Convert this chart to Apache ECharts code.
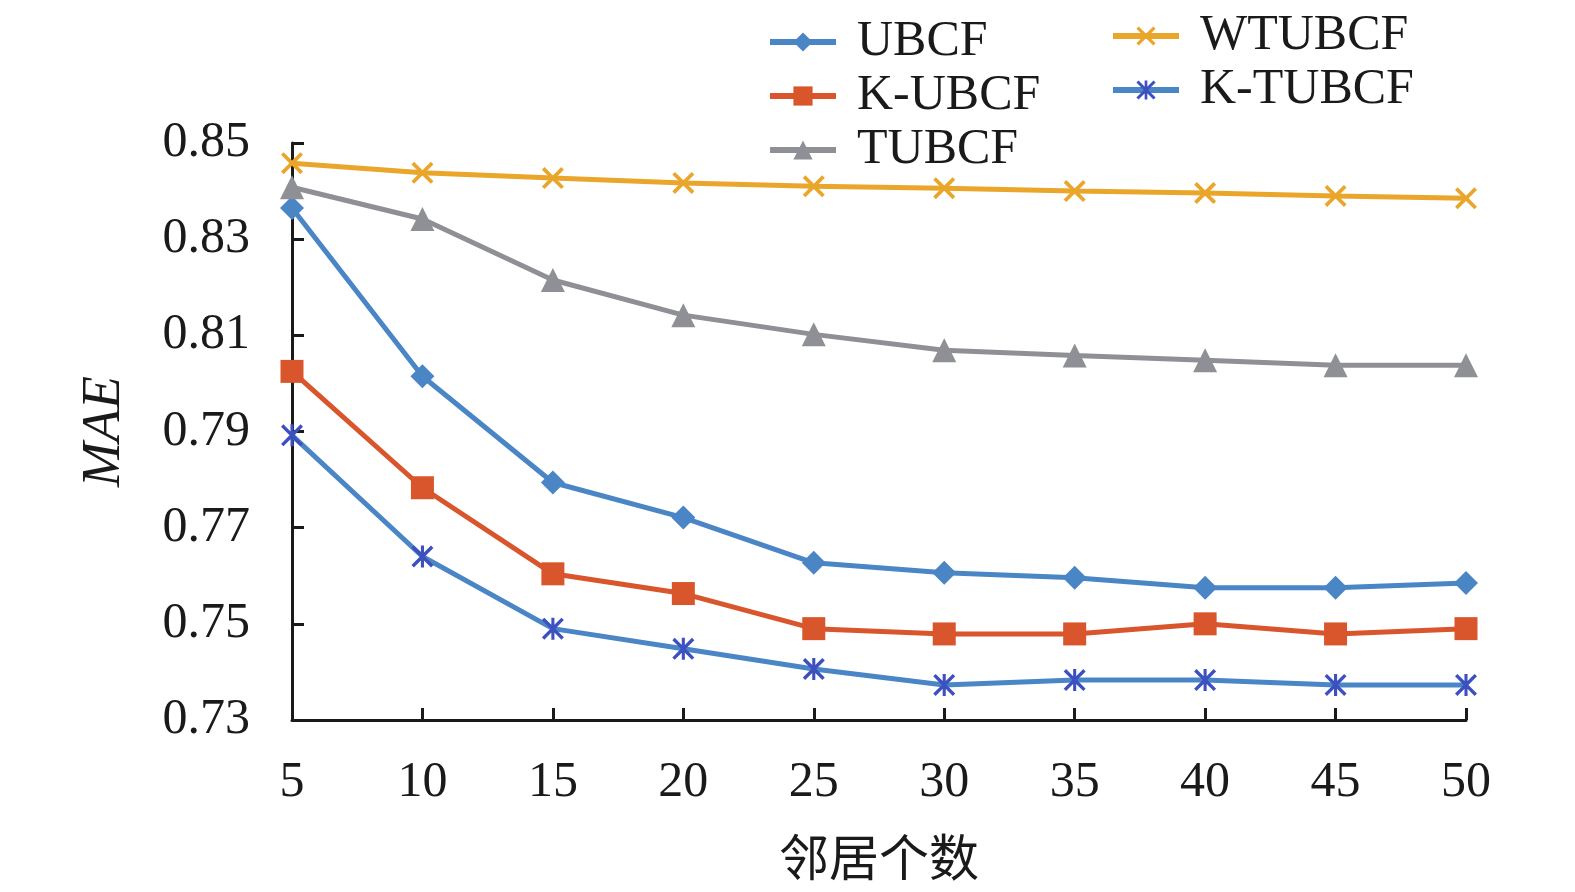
<!DOCTYPE html>
<html>
<head>
<meta charset="utf-8">
<script src="https://cdn.jsdelivr.net/npm/echarts@6/dist/echarts.min.js"></script>
<style>
  html, body { margin: 0; padding: 0; background: #fff; }
  #chart { width: 1575px; height: 892px; }
</style>
</head>
<body>
<div id="chart"></div>
<script>
// 邻居个数
var neighbors = ['5', '10', '15', '20', '25', '30', '35', '40', '45', '50'];
var yTicks = [0.73, 0.75, 0.77, 0.79, 0.81, 0.83, 0.85];

var ubcf = [0.8365, 0.8015, 0.7794, 0.7721, 0.7627, 0.7606, 0.7596, 0.7575, 0.7575, 0.7585];
var kUbcf = [0.8025, 0.7783, 0.7604, 0.7563, 0.7490, 0.7479, 0.7479, 0.7500, 0.7479, 0.7490];
var tubcf = [0.8408, 0.8342, 0.8215, 0.8142, 0.8102, 0.8069, 0.8058, 0.8048, 0.8038, 0.8038];
var wtubcf = [0.8458, 0.8438, 0.8427, 0.8417, 0.8410, 0.8406, 0.8400, 0.8396, 0.8390, 0.8385];
var kTubcf = [0.7892, 0.7640, 0.7490, 0.7448, 0.7406, 0.7373, 0.7383, 0.7383, 0.7373, 0.7373];

var serifFont = '"Liberation Serif", "Noto Sans CJK SC", serif';
var crossPath = 'path://M0,1.2 L1.2,0 L5,3.8 L8.8,0 L10,1.2 L6.2,5 L10,8.8 L8.8,10 L5,6.2 L1.2,10 L0,8.8 L3.8,5 Z';
var starPath = 'path://M0,1.1 L1.1,0 L5,3.9 L8.9,0 L10,1.1 L6.1,5 L10,8.9 L8.9,10 L5,6.1 L1.1,10 L0,8.9 L3.9,5 Z M4.3,0 L5.7,0 L5.7,10 L4.3,10 Z';

function makeSeries(name, data, color, symbol, size, markColor) {
    return {
        name: name,
        type: 'line',
        data: data,
        symbol: symbol,
        symbolSize: size,
        showAllSymbol: true,
        itemStyle: { color: markColor || color },
        lineStyle: { color: color, width: 5 },
        z: 3
    };
}

var myChart = echarts.init(document.getElementById('chart'));

var legendText = { fontFamily: serifFont, fontSize: 50, color: '#1a1a1a', padding: [0, 0, 0, 16] };

var option = {
    backgroundColor: '#fff',
    animation: false,
    grid: { left: 292, right: 109, top: 143, bottom: 172, containLabel: false },
    legend: [{
        data: ['UBCF', 'K-UBCF', 'TUBCF'],
        orient: 'vertical',
        left: 762,
        top: 12,
        itemWidth: 66,
        itemHeight: 24,
        itemGap: 4,
        lineStyle: { width: 6 },
        textStyle: legendText
    }, {
        data: ['WTUBCF', 'K-TUBCF'],
        orient: 'vertical',
        left: 1105,
        top: 6,
        itemWidth: 66,
        itemHeight: 24,
        itemGap: 4,
        lineStyle: { width: 6 },
        textStyle: legendText
    }],
    xAxis: {
        type: 'category',
        data: neighbors,
        boundaryGap: false,
        name: '邻居个数',
        nameLocation: 'middle',
        nameGap: 112,
        nameTextStyle: { fontFamily: '"Noto Sans CJK SC", serif', fontSize: 50, color: '#1a1a1a' },
        axisLine: { lineStyle: { color: '#1a1a1a', width: 3 } },
        axisTick: { inside: true, length: 12, lineStyle: { color: '#1a1a1a', width: 3 } },
        axisLabel: { fontFamily: serifFont, fontSize: 50, color: '#1a1a1a', margin: 38 },
        splitLine: { show: false }
    },
    yAxis: {
        type: 'value',
        min: yTicks[0],
        max: yTicks[yTicks.length - 1],
        interval: 0.02,
        name: 'MAE',
        nameLocation: 'middle',
        nameRotate: 90,
        nameGap: 160,
        nameTextStyle: { fontFamily: serifFont, fontSize: 54, fontStyle: 'italic', color: '#1a1a1a' },
        axisLine: { show: true, lineStyle: { color: '#1a1a1a', width: 3 } },
        axisTick: { show: true, inside: true, length: 12, lineStyle: { color: '#1a1a1a', width: 3 } },
        axisLabel: {
            fontFamily: serifFont, fontSize: 50, color: '#1a1a1a', margin: 42,
            formatter: function(v) { return v.toFixed(2); }
        },
        splitLine: { show: false }
    },
    series: [
        makeSeries('UBCF', ubcf, '#4A86C5', 'diamond', 24),
        makeSeries('K-UBCF', kUbcf, '#D9552B', 'rect', 23),
        makeSeries('TUBCF', tubcf, '#8E9095', 'triangle', 24),
        makeSeries('WTUBCF', wtubcf, '#E9A62B', crossPath, 22),
        makeSeries('K-TUBCF', kTubcf, '#4A86C5', starPath, 22, '#3D50C0')
    ]
};

myChart.setOption(option);
</script>
</body>
</html>
